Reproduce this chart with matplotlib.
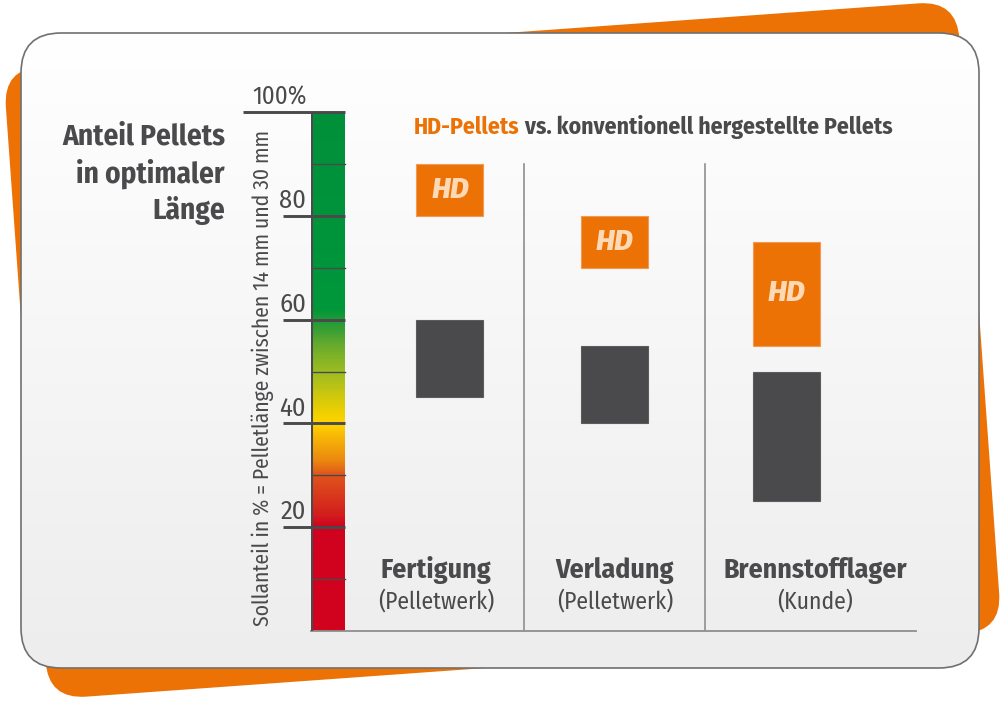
"""
HD-Pellets vs. konventionell hergestellte Pellets
"""

import numpy as np
import matplotlib
matplotlib.use("Agg")
import matplotlib.pyplot as plt
from matplotlib.patches import FancyBboxPatch
from matplotlib.colors import LinearSegmentedColormap
from matplotlib.transforms import Affine2D

# Daten
stages = ["Fertigung", "Verladung", "Brennstofflager"]
stage_sub = ["(Pelletwerk)", "(Pelletwerk)", "(Kunde)"]
hd_low = [80, 70, 55]
hd_high = [90, 80, 75]
conv_low = [45, 40, 25]
conv_high = [60, 55, 50]
major_ticks = [20, 40, 60, 80]
minor_ticks = [10, 30, 50, 70, 90]

ORANGE = "#ec7205"
DARK = "#4a4a4c"
GRID = "#8e8e8e"
COND = ["Fira Sans Condensed", "DejaVu Sans"]

fig = plt.figure(figsize=(10, 7.01), dpi=100)

# Hintergrund in Pixelkoordinaten
bg = fig.add_axes([0, 0, 1, 1])
bg.axis("off")

# orangefarbenes Blatt, leicht gedreht
sheet = FancyBboxPatch((502.5 - 478, 350 - 316), 956, 632,
                       boxstyle="round,pad=0,rounding_size=38",
                       fc=ORANGE, ec="none", zorder=0)
sheet.set_transform(Affine2D().rotate_deg_around(502.5, 350, -4.1) + bg.transData)
bg.add_patch(sheet)

# weisse Karte mit Verlauf
card = FancyBboxPatch((21, 33), 958, 635, boxstyle="round,pad=0,rounding_size=40",
                      fc="white", ec="none", zorder=1)
bg.add_patch(card)
card_cmap = LinearSegmentedColormap.from_list("card", ["#ffffff", "#ededed"])
im = bg.imshow(np.linspace(0, 1, 256).reshape(-1, 1), extent=(21, 979, 668, 33),
               cmap=card_cmap, aspect="auto", zorder=1.5)
im.set_clip_path(card)
bg.add_patch(FancyBboxPatch((21, 33), 958, 635, boxstyle="round,pad=0,rounding_size=40",
                            fc="none", ec="#707070", lw=1.2, zorder=2))
bg.set_xlim(0, 1000)
bg.set_ylim(701, 0)

# linke Ueberschrift
for txt, yy in zip(["Anteil Pellets", "in optimaler", "Länge"], [137, 174, 211]):
    bg.text(225, yy, txt, ha="right", va="center", fontsize=21, fontweight="bold",
            color=DARK, family=COND, zorder=3)

bg.text(263, 378, "Sollanteil in % = Pelletlänge zwischen 14 mm und 30 mm",
        rotation=90, ha="center", va="center", fontsize=15.5, fontweight="normal",
        color=DARK, family=COND, zorder=3)

# Diagramm
ax = fig.add_axes([0.311, (701 - 631) / 701, 0.605, (631 - 112) / 701])
ax.axis("off")

scale_cmap = LinearSegmentedColormap.from_list("scale", [
    (0.00, "#d0021e"), (0.20, "#d0021e"), (0.22, "#d21c1e"), (0.30, "#e0551b"),
    (0.33, "#ec8a0f"), (0.40, "#ffd400"), (0.42, "#f0d000"), (0.50, "#9cbc22"),
    (0.55, "#6aac2c"), (0.58, "#3a9f34"), (0.62, "#00973a"), (1.00, "#00903a")])
ax.imshow(np.linspace(0, 1, 500).reshape(-1, 1), extent=(311, 345, 0, 100),
          origin="lower", cmap=scale_cmap, aspect="auto", zorder=1)

for t in minor_ticks:
    ax.plot([311, 345], [t, t], color=DARK, lw=1.0, zorder=2)
for t in major_ticks:
    ax.plot([283, 345], [t, t], color=DARK, lw=2.1, solid_capstyle="butt",
            clip_on=False, zorder=3)
    ax.text(306, t + 1.5, str(t), ha="right", va="baseline", fontsize=19,
            fontweight="normal", color=DARK, family=COND)
ax.plot([243, 345], [100, 100], color=DARK, lw=2.1, solid_capstyle="butt",
        clip_on=False, zorder=3)
ax.text(280, 101.5, "100%", ha="center", va="baseline", fontsize=18,
        fontweight="normal", color=DARK, family=COND)
ax.plot([311, 311], [0, 100], color=DARK, lw=2.2, solid_capstyle="butt", zorder=3)
ax.plot([311, 916], [0, 0], color=GRID, lw=1.3, clip_on=False, zorder=2)
for xd in (524, 705):
    ax.plot([xd, xd], [0, 90], color=GRID, lw=1.2, zorder=2)

centers = [450, 614.7, 786.7]
label_x = [436, 615, 815]
ax.bar(centers, np.subtract(hd_high, hd_low), bottom=hd_low, width=67,
       color=ORANGE, edgecolor="#f19a55", lw=0.8, zorder=3)
ax.bar(centers, np.subtract(conv_high, conv_low), bottom=conv_low, width=67,
       color=DARK, edgecolor="#5c5c5e", lw=0.8, zorder=3)
for c, lo, hi in zip(centers, hd_low, hd_high):
    ax.text(c, (lo + hi) / 2, "HD", ha="center", va="center", fontsize=21,
            fontweight=800, fontstyle="italic", color="#fdd9b5",
            family=["Fira Sans", "DejaVu Sans"], zorder=4)

for x, name, sub in zip(label_x, stages, stage_sub):
    ax.text(x, 10.2, name, ha="center", va="baseline", fontsize=20,
            fontweight="bold", color=DARK, family=COND)
    ax.text(x, 4.4, sub, ha="center", va="baseline", fontsize=17,
            color=DARK, family=COND)

ax.set_xlim(311, 916)
ax.set_ylim(0, 100)

# Titel zweifarbig
t1 = bg.text(414, 134, "HD-Pellets", ha="left", va="baseline", fontsize=17,
             fontweight="bold", color=ORANGE, family=COND, zorder=3)
bg.annotate(" vs. konventionell hergestellte Pellets", xy=(1, 0), xycoords=t1,
            ha="left", va="bottom", fontsize=17, fontweight="bold", color=DARK,
            family=COND, zorder=3)

fig.savefig("out.png", dpi=100)
